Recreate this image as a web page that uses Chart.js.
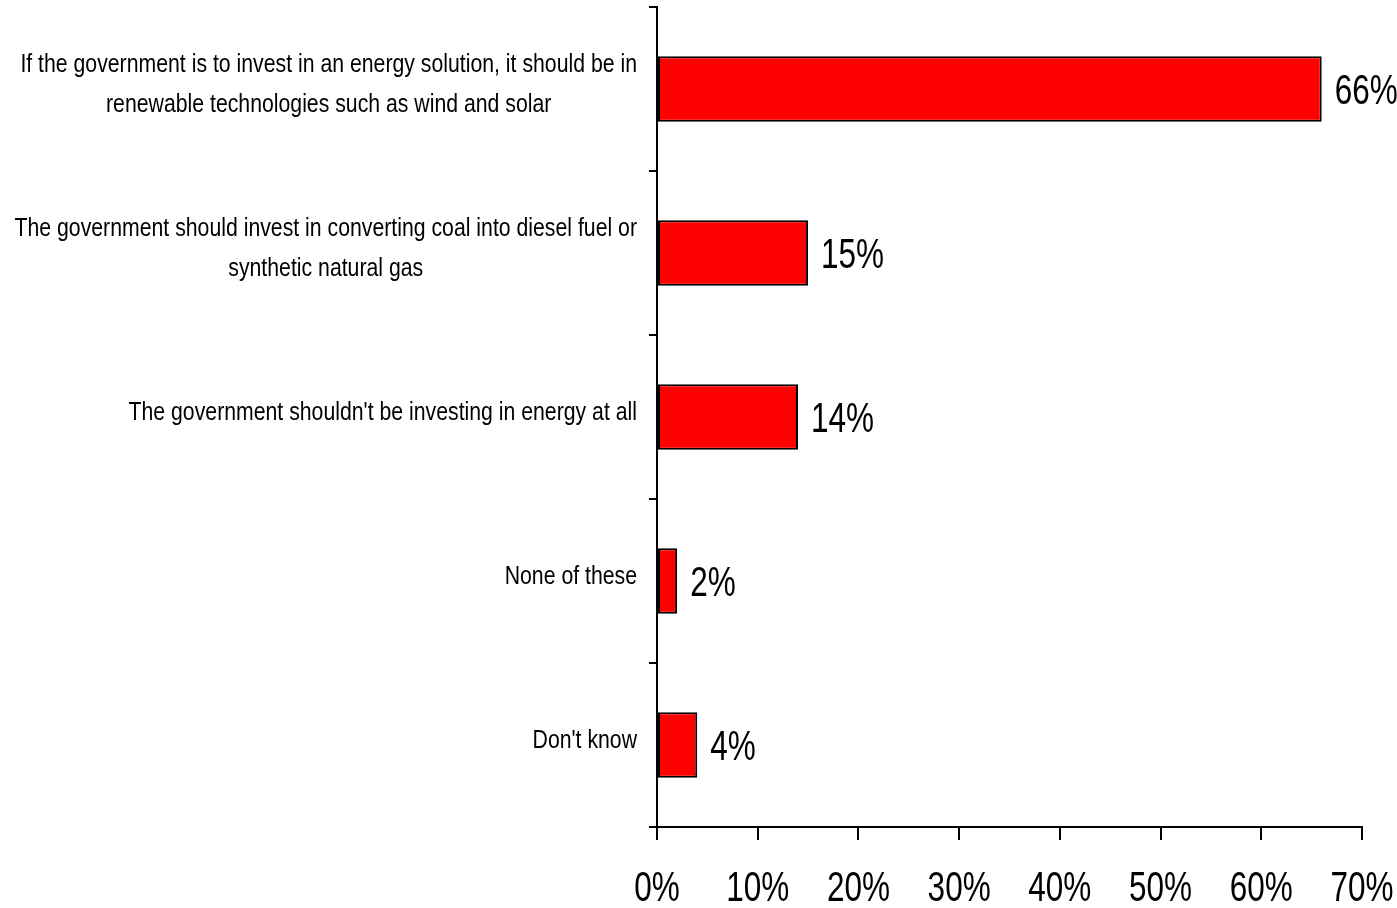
<!DOCTYPE html>
<html>
<head>
<meta charset="utf-8">
<script src="https://cdn.jsdelivr.net/npm/chart.js@4/dist/chart.umd.min.js"></script>
<style>
  html, body { margin: 0; padding: 0; background: #fff; }
  #wrap { width: 1397px; height: 908px; }
</style>
</head>
<body>
<div id="wrap"><canvas id="c" width="1397" height="908"></canvas></div>
<script>
// chart data
const categories = [
  ['If the government is to invest in an energy solution, it should be in', 'renewable technologies such as wind and solar'],
  ['The government should invest in converting coal into diesel fuel or', 'synthetic natural gas'],
  ["The government shouldn't be investing in energy at all"],
  ['None of these'],
  ["Don't know"]
];
const values = [66, 15, 14, 2, 4];
const xTicks = [0, 10, 20, 30, 40, 50, 60, 70];

const FONT = '"Liberation Sans", Arial, sans-serif';

// narrow text: no condensed face installed, so squeeze horizontally
function narrowText(ctx, text, x, y, align, sx) {
  ctx.save();
  ctx.translate(x, y);
  ctx.scale(sx, 1);
  ctx.textAlign = align;
  ctx.fillText(text, 0, 0);
  ctx.restore();
}

const labelPlugin = {
  id: 'labels',
  afterDraw(chart) {
    const ctx = chart.ctx;
    const y = chart.scales.y;
    const x = chart.scales.x;
    ctx.save();
    ctx.fillStyle = '#000';
    ctx.textBaseline = 'middle';

    // category labels: lines centred on the widest line, block right aligned
    const sxCat = 0.85;
    ctx.font = '25px ' + FONT;
    const rightEdge = y.right - 20;
    const lineH = 40;
    categories.forEach((lines, i) => {
      const cy = y.getPixelForTick(i) - 4;
      const w = Math.max(...lines.map(l => ctx.measureText(l).width)) * sxCat;
      const cx = rightEdge - w / 2;
      lines.forEach((l, j) => {
        narrowText(ctx, l, cx, cy + (j - (lines.length - 1) / 2) * lineH, 'center', sxCat);
      });
    });

    // value labels
    ctx.font = '42px ' + FONT;
    const meta = chart.getDatasetMeta(0);
    meta.data.forEach((bar, i) => {
      narrowText(ctx, values[i] + '%', bar.x + 13, bar.y + 3, 'left', 0.75);
    });

    // x tick labels
    xTicks.forEach(v => {
      narrowText(ctx, v + '%', x.getPixelForValue(v), 889, 'center', 0.75);
    });
    ctx.restore();
  }
};

new Chart(document.getElementById('c'), {
  type: 'bar',
  data: {
    labels: categories,
    datasets: [{
      data: values,
      backgroundColor: '#ff0000',
      borderColor: '#000',
      borderWidth: 2,
      borderSkipped: false,
      barPercentage: 0.4,
      categoryPercentage: 1
    }]
  },
  options: {
    indexAxis: 'y',
    responsive: false,
    animation: false,
    layout: { padding: { top: 7, right: 35, left: 0, bottom: 0 } },
    plugins: {
      legend: { display: false },
      tooltip: { enabled: false }
    },
    scales: {
      x: {
        min: 0,
        max: 70,
        afterBuildTicks(scale) {
          scale.ticks = xTicks.map(v => ({ value: v }));
        },
        afterFit(scale) { scale.height = 81; },
        border: { color: '#000', width: 2 },
        grid: { drawOnChartArea: false, drawTicks: true, tickLength: 13, color: '#000', lineWidth: 2 },
        ticks: { display: false }
      },
      y: {
        afterFit(scale) { scale.width = 657; },
        border: { color: '#000', width: 2 },
        grid: { drawOnChartArea: false, drawTicks: true, tickLength: 8, color: '#000', lineWidth: 2, offset: true },
        ticks: { display: false }
      }
    }
  },
  plugins: [labelPlugin]
});
</script>
</body>
</html>
